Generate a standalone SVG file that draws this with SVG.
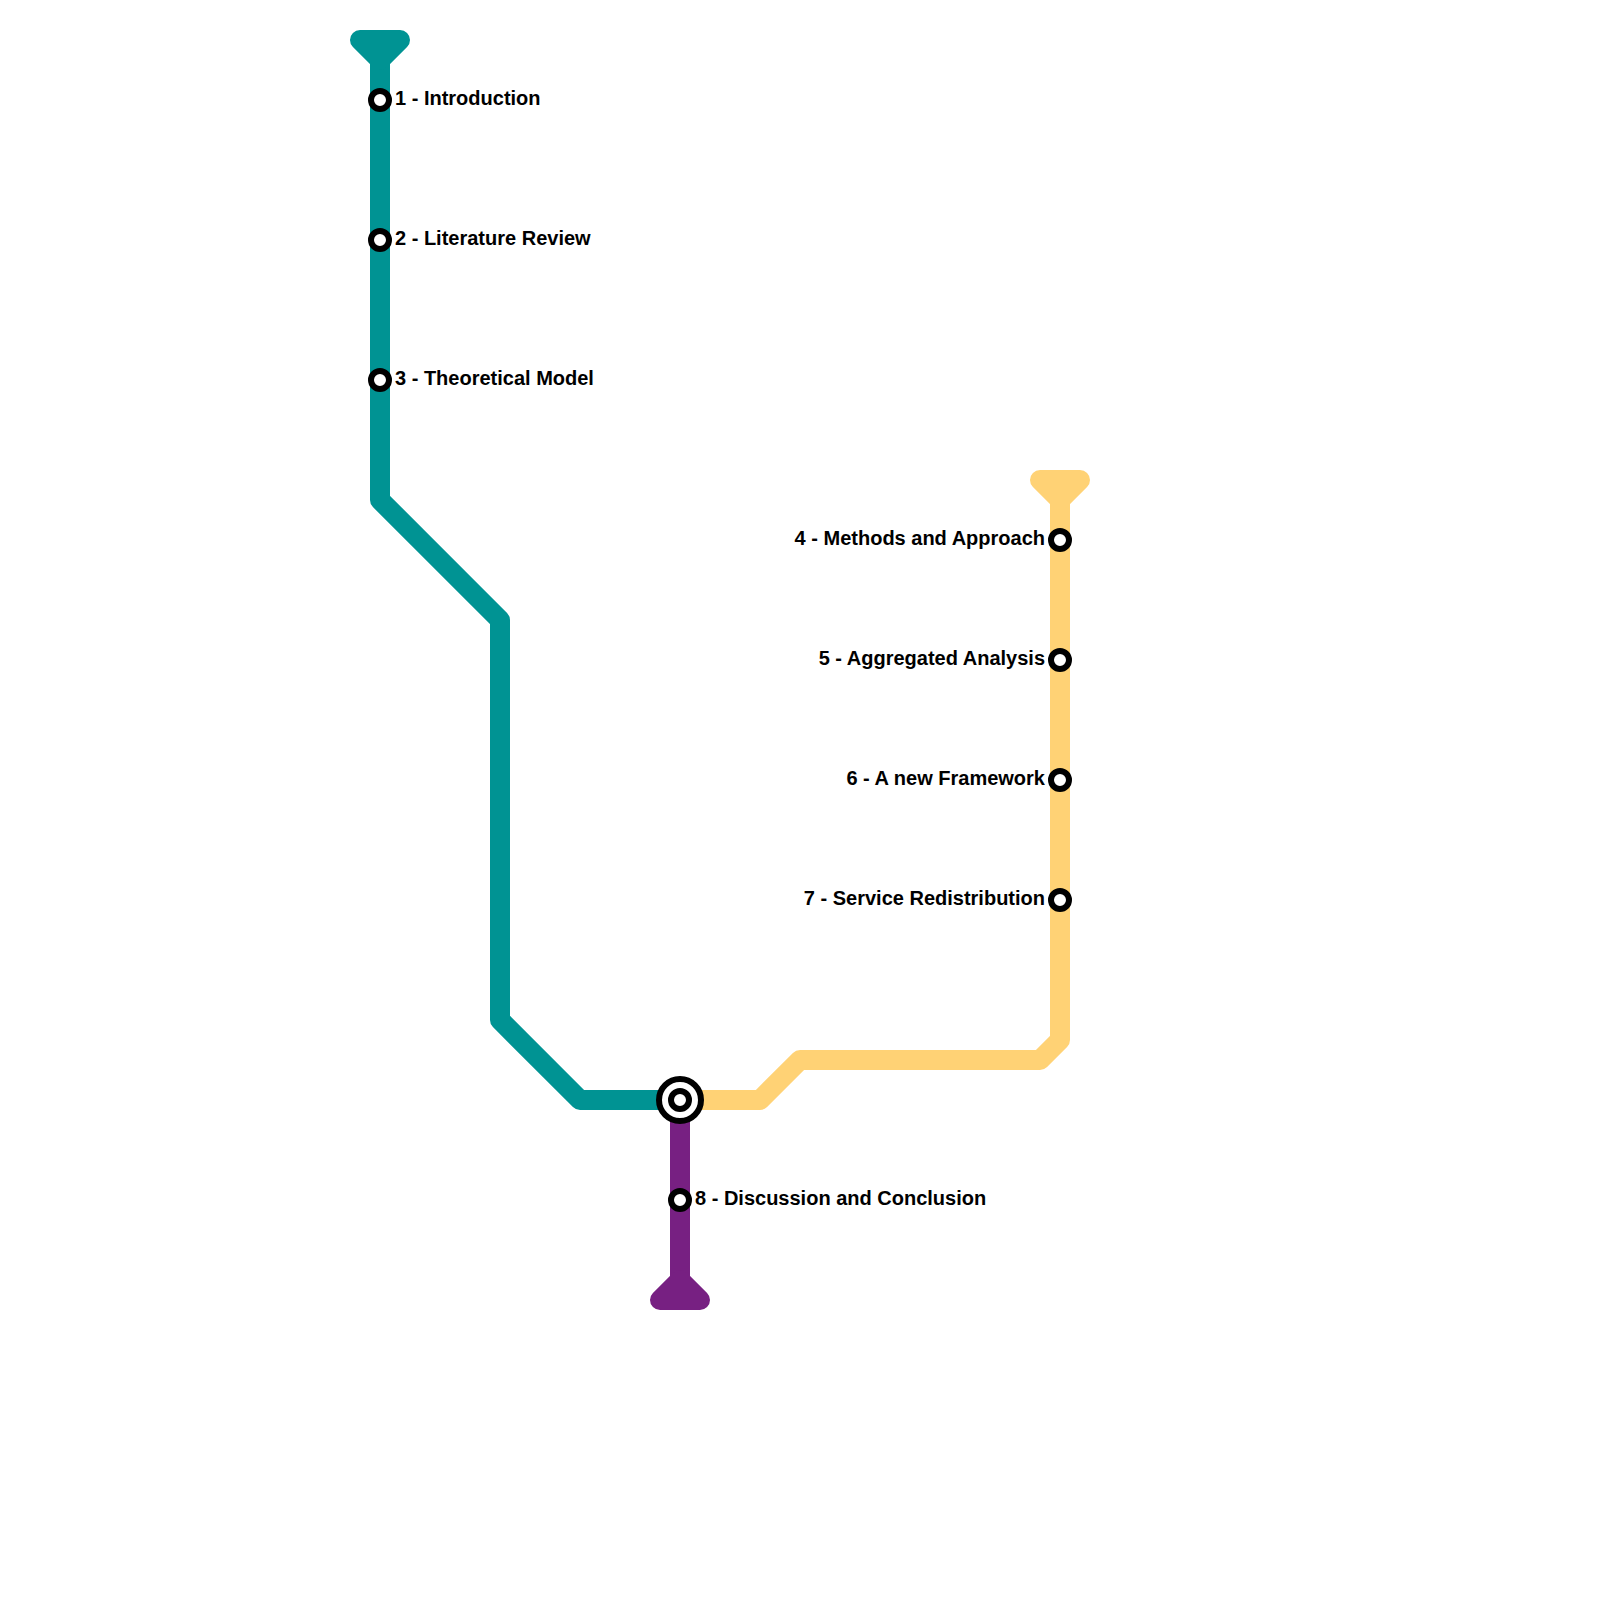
<svg xmlns="http://www.w3.org/2000/svg" width="1600" height="1600" viewBox="0 0 1600 1600">
<style>
.line{fill:none;stroke-width:20;stroke-linejoin:round}
.cap{stroke-width:20;stroke-linejoin:round}
.teal{stroke:#009393}
.yellow{stroke:#ffd275}
.purple{stroke:#772082}
.st{fill:#fff;stroke:#000;stroke-width:6}
.lb{font-family:"Liberation Sans",Arial,sans-serif;font-weight:700;font-size:20px;fill:#000}
.e{text-anchor:end}
</style>
<rect width="1600" height="1600" fill="#fff"/>
<g id="connectors">
<path class="line teal" d="M380 40V500L500 620V1020L580 1100H680"/>
<path class="line yellow" d="M680 1100H760L800 1060H1040L1060 1040V480"/>
<path class="line purple" d="M680 1100V1300"/>
<path class="cap teal" fill="#009393" d="M360 40H400L380 60Z"/>
<path class="cap yellow" fill="#ffd275" d="M1040 480H1080L1060 500Z"/>
<path class="cap purple" fill="#772082" d="M660 1300H700L680 1280Z"/>
</g>
<g id="n1"><circle class="st" cx="380" cy="100" r="9"/><text class="lb" x="395" y="104.500">1 - Introduction</text></g>
<g id="n2"><circle class="st" cx="380" cy="240" r="9"/><text class="lb" x="395" y="244.500">2 - Literature Review</text></g>
<g id="n3"><circle class="st" cx="380" cy="380" r="9"/><text class="lb" x="395" y="384.500">3 - Theoretical Model</text></g>
<g id="n4"><circle class="st" cx="1060" cy="540" r="9"/><text class="lb e" x="1045" y="544.500">4 - Methods and Approach</text></g>
<g id="n5"><circle class="st" cx="1060" cy="660" r="9"/><text class="lb e" x="1045" y="664.500">5 - Aggregated Analysis</text></g>
<g id="n6"><circle class="st" cx="1060" cy="780" r="9"/><text class="lb e" x="1045" y="784.500">6 - A new Framework</text></g>
<g id="n7"><circle class="st" cx="1060" cy="900" r="9"/><text class="lb e" x="1045" y="904.500">7 - Service Redistribution</text></g>
<g id="interchange"><circle class="st" cx="680" cy="1100" r="21"/><circle class="st" cx="680" cy="1100" r="9"/></g>
<g id="n8"><circle class="st" cx="680" cy="1200" r="9"/><text class="lb" x="695" y="1204.500">8 - Discussion and Conclusion</text></g>
</svg>
